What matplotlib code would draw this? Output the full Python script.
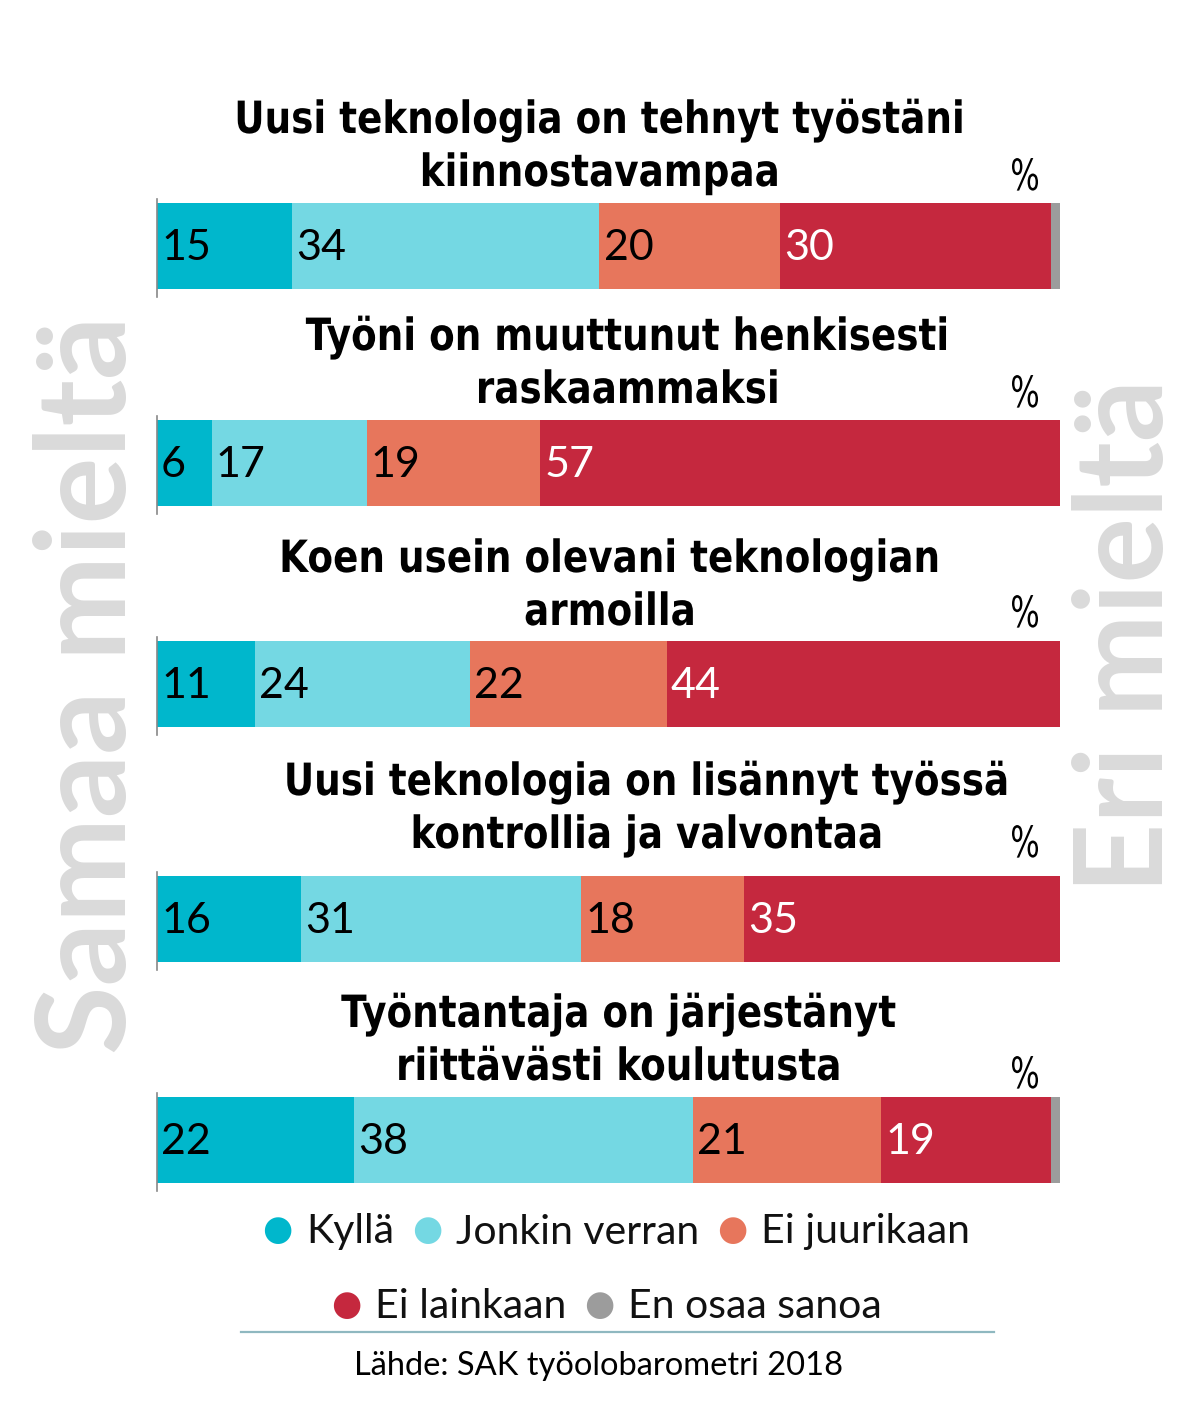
#Stacked bars: SAK työolobarometri 2018
import numpy as np
import matplotlib.pyplot as plt
from matplotlib import patheffects
from matplotlib.transforms import Affine2D

# data
questions = [
    ["Uusi teknologia on tehnyt työstäni", "kiinnostavampaa"],
    ["Työni on muuttunut henkisesti", "raskaammaksi"],
    ["Koen usein olevani teknologian", "armoilla"],
    ["Uusi teknologia on lisännyt työssä", "kontrollia ja valvontaa"],
    ["Työntantaja on järjestänyt", "riittävästi koulutusta"],
]
categories = ["Kyllä", "Jonkin verran", "Ei juurikaan", "Ei lainkaan", "En osaa sanoa"]
kylla = [15, 6, 11, 16, 22]
jonkin = [34, 17, 24, 31, 38]
ei_juuri = [20, 19, 22, 18, 21]
ei_lainkaan = [30, 57, 44, 35, 19]
en_osaa = [1, 0, 0, 0, 1]

colors = ['#00b7cc', '#74d8e3', '#e7765c', '#c5283e', '#9c9c9c']
text_colors = ['black', 'black', 'black', 'white', 'black']


# squeeze text horizontally (condensed look) around a pixel x
class HScale(patheffects.AbstractPathEffect):
    def __init__(self, sx, cx):
        super().__init__()
        self.sx = sx
        self.cx = cx

    def draw_path(self, renderer, gc, tpath, affine, rgbFace=None):
        t = affine + Affine2D().translate(-self.cx, 0).scale(self.sx, 1).translate(self.cx, 0)
        renderer.draw_path(gc, tpath, t, rgbFace)


W, H = 1199, 1413
fig = plt.figure(figsize=(W / 100, H / 100), dpi=100)
x0, x1 = 157, 1060
ax = fig.add_axes([x0 / W, 0, (x1 - x0) / W, 1])
ax.set_xlim(0, 100)
ax.set_ylim(H, 0)
ax.axis('off')

bar_top = [203, 420, 641, 876, 1097]
bar_h = 86
title_base = [133, 350, 572, 795, 1027]
title_x = [600, 628, 610, 647, 619]
pct_y = [190, 407, 627, 857, 1088]

title_font = ['DejaVu Sans']
num_font = ['Lato', 'DejaVu Sans']


def px2x(px):
    return (px - x0) / (x1 - x0) * 100


series = np.array([kylla, jonkin, ei_juuri, ei_lainkaan, en_osaa], dtype=float)
for i in range(len(questions)):
    vals = series[:, i]
    scaled = vals / vals.sum() * 100
    left = 0
    yc = bar_top[i] + bar_h / 2
    for j in range(len(categories)):
        if vals[j] > 0:
            ax.barh(yc, scaled[j], left=left, height=bar_h, color=colors[j], linewidth=0)
            if j < 4:
                ax.text(left + 0.45, yc + 2, f"{int(vals[j])}", ha='left', va='center',
                        fontsize=31, color=text_colors[j], family=num_font)
        left += scaled[j]
    # small axis line at the left
    ax.plot([0, 0], [bar_top[i] - 4, bar_top[i] + bar_h + 8], color='#888888', lw=1.2,
            clip_on=False)
    for k, line in enumerate(questions[i]):
        ax.text(px2x(title_x[i]), title_base[i] + 53 * k, line, ha='center',
                va='baseline', fontsize=32, fontweight='bold', family=title_font,
                path_effects=[HScale(0.84, title_x[i])])
    ax.text(px2x(1025), pct_y[i], '%', ha='center', va='baseline', fontsize=31,
            family=['DejaVu Sans'], path_effects=[HScale(0.72, 1025)])

# side labels
fig.text(90 / W, 1 - 685 / H, 'Samaa mieltä', rotation=90, ha='center', va='center',
         fontsize=90, fontweight='bold', color='#dadada', family=['Lato', 'DejaVu Sans'])
fig.text(1128 / W, 1 - 636 / H, 'Eri mieltä', rotation=90, ha='center', va='center',
         fontsize=88, fontweight='bold', color='#dadada', family=['Lato', 'DejaVu Sans'])

# legend
rows = [[0, 1, 2], [3, 4]]
row_y = [1230, 1305]
row_x = [262, 331]
for r, items in enumerate(rows):
    xpos = row_x[r]
    for j in items:
        fig.text(xpos / W, 1 - row_y[r] / H, '\u25cf', fontsize=25, color=colors[j],
                 ha='left', va='center', family=['DejaVu Sans'])
        t = fig.text((xpos + 44) / W, 1 - (row_y[r] + 2) / H, categories[j], fontsize=29.5,
                     ha='left', va='center', family=num_font, color='#111111')
        fig.canvas.draw()
        bb = t.get_window_extent()
        xpos = bb.x1 + 18

fig.add_artist(plt.Line2D([241 / W, 994 / W], [1 - 1332 / H, 1 - 1332 / H],
                          color='#8fb8c0', lw=1.6))
fig.text(599 / W, 1 - 1366 / H, 'Lähde: SAK työolobarometri 2018', ha='center',
         va='center', fontsize=23.5, family=num_font)

plt.savefig('out.png', dpi=100)
